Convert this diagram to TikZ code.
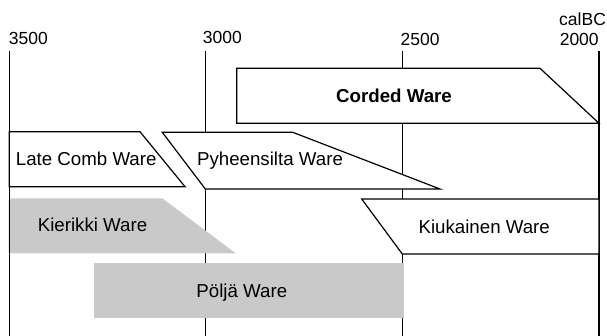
\documentclass[tikz,border=0pt]{standalone}
\usepackage{fontspec}
\setmainfont{Liberation Sans}
\definecolor{potgray}{RGB}{201,201,201}

\begin{document}
\begin{tikzpicture}[x=1pt, y=-1pt, line width=1.2pt, line join=miter,
	every node/.style={inner sep=0pt},
	year/.style={font=\fontsize{17.5}{20}\selectfont},
	ware/.style={anchor=base, font=\fontsize{18.7}{22}\selectfont},
	whiteware/.style={draw=black, fill=white},
	grayware/.style={fill=potgray}]
	\useasboundingbox (0,0) rectangle (607,335);
	% time axis
	\node[year, anchor=base east] (calbc) at (606.5,25.7) {calBC};
	\node[year, anchor=base west] (y3500) at (8.3,44.3) {3500};
	\node[year, anchor=base west] (y3000) at (202.3,43.3) {3000};
	\node[year, anchor=base west] (y2500) at (400,45) {2500};
	\node[year, anchor=base east] (y2000) at (599.3,45) {2000};
	\foreach \x in {9.3, 205.3, 402.3, 599}
		\draw (\x,51) -- (\x,336);
	% cultures
	\draw[whiteware] (236.7,68.3) -- (540,68.3) -- (599,123.3) -- (236.7,123.3) -- cycle;
	\node[ware, font=\fontsize{18.7}{22}\selectfont\bfseries] (corded) at (394,102.7) {Corded Ware};
	\draw[whiteware] (9.3,131.7) -- (140,131.7) -- (185,186.7) -- (9.3,186.7) -- cycle;
	\node[ware] (latecomb) at (86.2,165.7) {Late Comb Ware};
	\draw[whiteware] (162.3,132.3) -- (292.7,132.3) -- (440,189) -- (205.3,189) -- cycle;
	\node[ware] (pyheensilta) at (270,165.7) {Pyheensilta Ware};
	\fill[grayware] (8.7,198.3) -- (162.3,198.3) -- (235.7,253.3) -- (8.7,253.3) -- cycle;
	\draw (9.3,198.3) -- (9.3,253.3);
	\node[ware] (kierikki) at (92.5,231.7) {Kierikki Ware};
	\draw[whiteware] (361.7,199) -- (599,199) -- (599,254) -- (402.3,254) -- cycle;
	\node[ware] (kiukainen) at (484.2,233.3) {Kiukainen Ware};
	\fill[grayware] (94.3,263.3) rectangle (404,318.3);
	\node[ware] (polja) at (241.8,297.7) {Pöljä Ware};
\end{tikzpicture}
\end{document}
